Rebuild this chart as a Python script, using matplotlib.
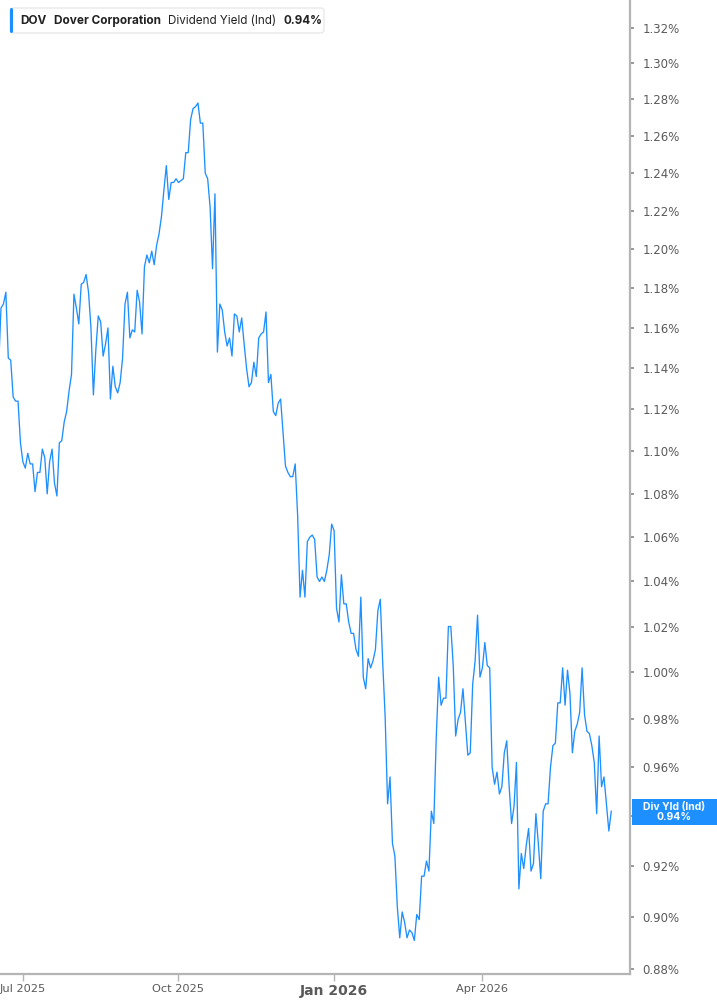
import numpy as np
import pandas as pd
import matplotlib
matplotlib.use("Agg")
import matplotlib.pyplot as plt
from matplotlib.patches import FancyBboxPatch, Rectangle
from matplotlib.ticker import FixedLocator, NullLocator

# ============================
# Data
# ============================
ticker = "DOV"
company = "Dover Corporation"
metric = "Dividend Yield (Ind)"
last_value_text = "0.94%"
side_label = "Div Yld (Ind)"

# NYSE holidays inside the window; the chart plots one slot per trading day
holidays = ["2025-06-19", "2025-07-04", "2025-09-01", "2025-11-27", "2025-12-25",
            "2026-01-01", "2026-01-19", "2026-02-16", "2026-04-03", "2026-05-25"]

# daily dividend yield, percent
div_yield = [
    1.140,
    1.170, 1.172, 1.178, 1.145, 1.144, 1.126, 1.124, 1.124, 1.104, 1.095,
    1.092, 1.099, 1.094, 1.094, 1.081, 1.090, 1.090, 1.101, 1.097, 1.080,
    1.095, 1.101, 1.085, 1.079, 1.104, 1.105, 1.114, 1.119, 1.129, 1.137,
    1.177, 1.170, 1.162, 1.182, 1.183, 1.187, 1.178, 1.160, 1.127, 1.149,
    1.166, 1.163, 1.146, 1.152, 1.160, 1.125, 1.141, 1.131, 1.128, 1.133,
    1.145, 1.172, 1.178, 1.155, 1.159, 1.158, 1.179, 1.173, 1.157, 1.191,
    1.197, 1.193, 1.199, 1.192,
    1.202, 1.208, 1.217, 1.231, 1.244, 1.226, 1.235, 1.235, 1.237, 1.235,
    1.236, 1.237, 1.251, 1.251, 1.269, 1.275, 1.276, 1.278, 1.267, 1.267,
    1.240, 1.237, 1.222, 1.190, 1.229, 1.148, 1.172, 1.169, 1.158, 1.151,
    1.155, 1.146, 1.167, 1.166, 1.158, 1.165, 1.152, 1.140, 1.131, 1.133,
    1.143, 1.136, 1.155, 1.157, 1.158, 1.168, 1.133, 1.137, 1.119, 1.117,
    1.123, 1.125, 1.109, 1.093, 1.090, 1.088, 1.088, 1.094, 1.070, 1.033,
    1.045, 1.033, 1.058, 1.060, 1.061, 1.059, 1.042, 1.040, 1.042, 1.040,
    1.045, 1.052, 1.066, 1.063, 1.028, 1.022, 1.043, 1.030, 1.030, 1.022,
    1.017, 1.017, 1.010, 1.007, 1.033, 0.998, 0.993, 1.006, 1.002, 1.005,
    1.010, 1.027, 1.032, 1.004, 0.981, 0.945, 0.956, 0.929, 0.924, 0.904,
    0.892, 0.902, 0.898, 0.892, 0.895, 0.894, 0.891, 0.901, 0.899, 0.916,
    0.916, 0.922, 0.918, 0.942, 0.937, 0.972, 0.998, 0.986, 0.989, 0.989,
    1.020, 1.020, 1.003, 0.973, 0.980, 0.983, 0.993, 0.979, 0.965, 0.966,
    0.995, 1.005, 1.025, 0.998, 1.002, 1.013, 1.003, 1.002, 0.960, 0.953,
    0.958, 0.949, 0.952, 0.966, 0.971, 0.952, 0.937, 0.944, 0.962, 0.911,
    0.925, 0.919, 0.928, 0.935, 0.918, 0.921, 0.941, 0.929, 0.915, 0.942,
    0.945, 0.945, 0.960, 0.969, 0.970, 0.987, 0.987, 1.002, 0.986, 1.001,
    0.991, 0.966, 0.975, 0.978, 0.983, 1.002, 0.982, 0.975, 0.974, 0.969,
    0.962, 0.941, 0.973, 0.952, 0.956, 0.945, 0.934, 0.942,
]

dates = pd.bdate_range(end="2026-06-17", periods=len(div_yield), freq="C",
                       holidays=holidays)

y_ticks = [0.88, 0.90, 0.92, 0.94, 0.96, 0.98, 1.00, 1.02, 1.04, 1.06, 1.08,
           1.10, 1.12, 1.14, 1.16, 1.18, 1.20, 1.22, 1.24, 1.26, 1.28, 1.30, 1.32]
x_ticks = ["2025-07-01", "2025-10-01", "2026-01-01", "2026-04-01"]
x_tick_labels = ["Jul 2025", "Oct 2025", "Jan 2026", "Apr 2026"]

# ============================
# Style
# ============================
BLUE = "#1e8fff"
AXIS_GRAY = "#b4b4b4"
LABEL_GRAY = "#5a5a5a"
plt.rcParams["font.family"] = ["Liberation Sans Narrow", "DejaVu Sans"]

W, H = 717, 1005
fig = plt.figure(figsize=(W / 100, H / 100), dpi=100)
fig.patch.set_facecolor("white")

ax = fig.add_axes([0, 1 - 974 / H, 630 / W, 974 / H])

# trading-day index on x (no weekend gaps)
idx = np.arange(len(dates))
ax.plot(idx, div_yield, color=BLUE, lw=0.95)

ax.set_yscale("log")
ax.set_ylim(0.8782, 1.336)
ax.yaxis.set_major_locator(FixedLocator(y_ticks))
ax.yaxis.set_minor_locator(NullLocator())
# the 0.94% label sits under the value tag, so it is left blank
ax.set_yticklabels(["" if abs(v - 0.94) < 1e-9 else f"{v:.2f}%" for v in y_ticks])
ax.yaxis.tick_right()

tick_pos = [int(dates.searchsorted(pd.Timestamp(d))) for d in x_ticks]
ax.set_xlim(0.59, 259.7)
ax.set_xticks(tick_pos)
ax.set_xticklabels(x_tick_labels)
ax.xaxis.set_minor_locator(NullLocator())

for side in ["top", "left"]:
    ax.spines[side].set_visible(False)
for side in ["right", "bottom"]:
    ax.spines[side].set_color(AXIS_GRAY)
    ax.spines[side].set_linewidth(1.6)

ax.tick_params(axis="y", length=3, width=1.2, color="#888888", pad=6,
               labelsize=8.5, labelcolor=LABEL_GRAY)
ax.tick_params(axis="x", length=5, width=1.0, color=AXIS_GRAY, pad=2,
               labelsize=8.2, labelcolor=LABEL_GRAY)
for lbl in ax.get_xticklabels():
    if lbl.get_text() == "Jan 2026":
        lbl.set_fontweight("bold")
        lbl.set_fontsize(10)

# ============================
# Header legend + right-side value tag (pixel coords)
# ============================
ov = fig.add_axes([0, 0, 1, 1], zorder=5)
ov.set_xlim(0, W)
ov.set_ylim(H, 0)
ov.axis("off")
ov.patch.set_alpha(0)

ov.add_patch(FancyBboxPatch((10, 8), 314, 25, boxstyle="round,pad=0,rounding_size=3",
                            fc="white", ec="#e4e4e4", lw=0.8))
ov.add_patch(FancyBboxPatch((10, 8), 3, 25, boxstyle="round,pad=0,rounding_size=1.5",
                            fc=BLUE, ec="none"))
head_font = ["Inter", "DejaVu Sans"]
ov.text(20, 20.5, ticker, fontsize=8.5, fontweight="bold", color="#222222",
        va="center", ha="left", family=head_font)
ov.text(54, 20.5, company, fontsize=8.5, fontweight="bold", color="#222222",
        va="center", ha="left", family=head_font)
ov.text(168, 20.5, metric, fontsize=8.4, color="#222222",
        va="center", ha="left", family=head_font)
ov.text(283, 20.5, last_value_text, fontsize=8.4, fontweight="bold", color="#222222",
        va="center", ha="left", family=head_font)

ov.add_patch(Rectangle((632, 799), 85, 26, fc=BLUE, ec="none"))
ov.text(674, 812, f"{side_label}\n{last_value_text}", fontsize=7.5,
        fontweight="bold", color="white", va="center", ha="center",
        linespacing=1.05, multialignment="center", family=head_font)

fig.savefig("out.png", dpi=100)
